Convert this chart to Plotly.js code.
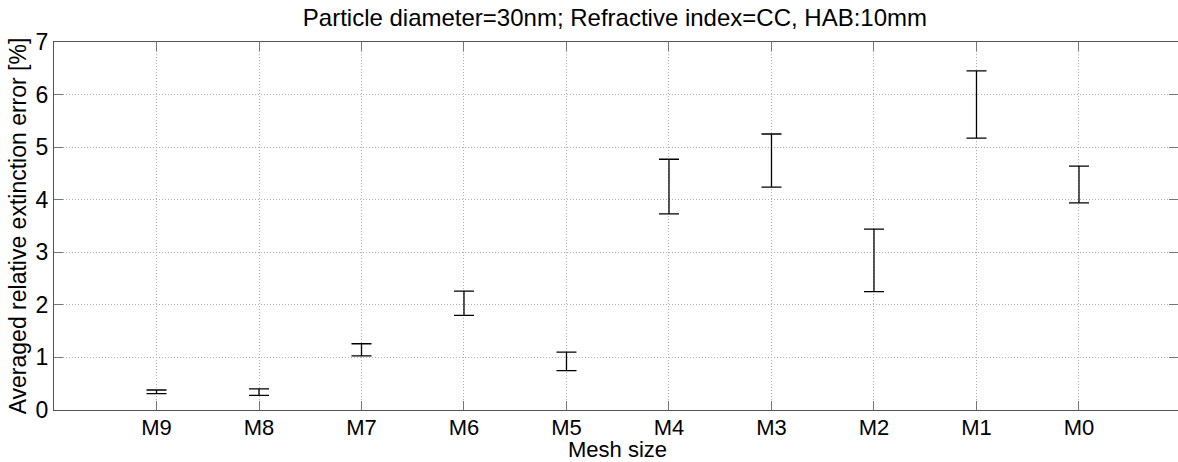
<!DOCTYPE html>
<html>
<head>
<meta charset="utf-8">
<script src="https://cdn.plot.ly/plotly-3.0.1.min.js"></script>
<style>html,body{margin:0;padding:0;background:#fff;}#chart{width:1178px;height:462px;}</style>
</head>
<body>
<div id="chart"></div>
<script>
const meshLabels = ['M9','M8','M7','M6','M5','M4','M3','M2','M1','M0'];
const meshPos = [1,2,3,4,5,6,7,8,9,10];
const errLow  = [0.31, 0.28, 1.03, 1.80, 0.75, 3.73, 4.24, 2.25, 5.17, 3.94];
const errHigh = [0.38, 0.40, 1.26, 2.26, 1.10, 4.77, 5.25, 3.44, 6.45, 4.64];

const mid = errLow.map((l,i)=> (l+errHigh[i])/2);
const half = errLow.map((l,i)=> (errHigh[i]-l)/2);

const trace = {
  x: meshPos, y: mid, type: 'scatter', mode: 'markers',
  marker: {size: 1, color: 'rgba(0,0,0,0)'},
  error_y: {type: 'data', array: half, visible: true, color: '#000', thickness: 1.3, width: 10},
  hoverinfo: 'skip', showlegend: false
};

const font = 'Liberation Sans, Arial, Helvetica, sans-serif';
const layout = {
  width: 1178, height: 462,
  margin: {l: 54, r: 0, t: 42, b: 52},
  paper_bgcolor: '#fff', plot_bgcolor: '#fff',
  font: {family: font, color: '#000', size: 22},
  title: {text: 'Particle diameter=30nm; Refractive index=CC, HAB:10mm', font: {family: font, size: 24, color: '#000'}, x: 0.522, xanchor: 'center', y: 0.962, yanchor: 'middle'},
  xaxis: {
    range: [0, 10.966], tickvals: meshPos, ticktext: meshLabels,
    showgrid: true, gridcolor: '#b0b0b0', griddash: '1px,2px', gridwidth: 1,
    zeroline: false, showline: true, linecolor: '#555', linewidth: 1, mirror: 'ticks',
    ticks: 'inside', ticklen: 9, tickcolor: '#777', tickwidth: 1,
    tickfont: {family: font, size: 22, color: '#000'}, ticklabelstandoff: -2
  },
  yaxis: {
    range: [0, 7], tickvals: [0,1,2,3,4,5,6,7],
    showgrid: true, gridcolor: '#b0b0b0', griddash: '1px,2px', gridwidth: 1,
    zeroline: false, showline: true, linecolor: '#555', linewidth: 1, mirror: 'ticks',
    ticks: 'inside', ticklen: 9, tickcolor: '#777', tickwidth: 1,
    tickfont: {family: font, size: 23, color: '#000'},
    title: {text: 'Averaged relative extinction error [%]', font: {family: font, size: 23, color: '#000'}, standoff: 2}
  },
  annotations: [{
    text: 'Mesh size', xref: 'x', yref: 'paper', x: 5.5, y: -0.106,
    xanchor: 'center', yanchor: 'middle', showarrow: false,
    font: {family: font, size: 22, color: '#000'}
  }]
};
Plotly.newPlot('chart', [trace], layout, {displayModeBar: false, staticPlot: true});
</script>
</body>
</html>
